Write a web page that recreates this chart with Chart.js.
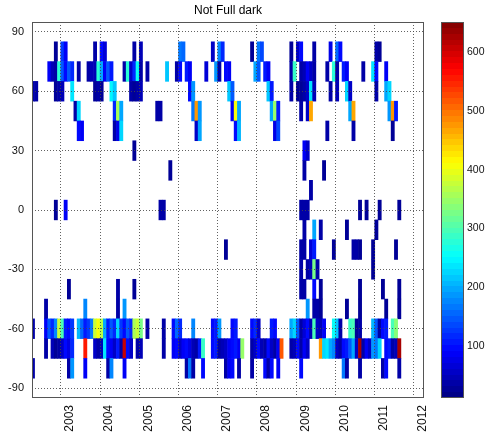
<!DOCTYPE html>
<html>
<head>
<meta charset="utf-8">
<script src="https://cdn.jsdelivr.net/npm/chart.js@4.4.1/dist/chart.umd.min.js"></script>
<style>
  html, body { margin: 0; padding: 0; background: #fff; }
  #wrap { position: relative; width: 485px; height: 444px; }
  #wrap canvas { position: absolute; left: 0; top: 0; }
</style>
</head>
<body>
<div id="wrap">
  <canvas id="map" width="485" height="444"></canvas>
  <canvas id="scale" width="485" height="444"></canvas>
</div>
<script>
// Monthly counts in 10-degree latitude bands.
// Each entry is [month index counted from January 2002, count].
const lat80 = [[10,30],[12,130],[13,90],[22,35],[24,100],[25,70],[34,40],[36,50],[48,170],[49,160],[58,60],[60,180],[61,120],[70,30],[72,170],[73,140],[82,30],[84,60],[85,100],[89,35],[94,80],[96,160],[97,100],[108,40],[109,30]];
const lat70 = [[8,90],[9,45],[10,40],[11,280],[12,150],[13,100],[14,150],[15,120],[17,35],[20,40],[21,45],[22,50],[23,280],[24,200],[25,90],[26,150],[27,110],[31,40],[32,280],[33,60],[34,120],[35,260],[36,40],[38,35],[44,220],[47,40],[48,100],[50,110],[51,90],[56,70],[59,190],[60,40],[62,100],[63,90],[71,200],[72,150],[74,110],[75,90],[82,35],[83,290],[85,40],[86,50],[87,90],[88,60],[89,40],[93,40],[95,280],[96,40],[98,110],[99,90],[104,40],[107,240],[108,100],[111,90]];
const lat60 = [[3,40],[4,40],[10,30],[11,40],[12,50],[15,240],[22,30],[23,40],[24,30],[27,250],[28,220],[33,40],[34,30],[35,40],[36,50],[51,100],[52,190],[63,220],[64,150],[75,220],[76,110],[82,35],[84,30],[85,30],[86,40],[87,60],[88,240],[89,50],[94,40],[96,50],[99,230],[100,60],[108,40],[111,200],[112,230]];
const lat50 = [[16,40],[17,230],[28,120],[29,360],[30,200],[41,40],[42,40],[52,170],[53,480],[54,190],[64,90],[65,410],[66,200],[76,200],[77,350],[78,110],[85,40],[87,60],[88,470],[100,200],[101,470],[112,190],[113,480],[114,110]];
const lat40 = [[17,100],[18,90],[28,40],[29,80],[30,230],[53,60],[54,200],[65,100],[66,210],[77,80],[78,140],[93,40],[101,40],[113,30]];
const lat30 = [[34,30],[86,90],[87,60]];
const lat20 = [[45,30],[86,40],[92,30]];
const lat10 = [[88,40]];
const lat0 = [[10,30],[13,90],[42,40],[43,35],[85,40],[86,35],[87,40],[103,30],[105,30],[109,30],[115,30]];
const latS10 = [[86,40],[89,200],[91,35],[99,30],[108,30]];
const latS20 = [[62,30],[85,40],[86,35],[88,70],[89,110],[95,30],[101,35],[102,35],[103,30],[107,30],[114,30]];
const latS30 = [[85,40],[87,40],[88,50],[89,330],[90,40],[107,30]];
const latS40 = [[14,30],[29,35],[34,30],[85,40],[86,35],[89,100],[91,30],[103,30],[110,30],[115,30]];
const latS50 = [[7,35],[19,180],[29,35],[31,190],[87,190],[89,40],[90,35],[91,30],[99,30],[103,30],[111,30],[115,30]];
const latS60 = [[3,40],[7,90],[8,150],[9,120],[10,180],[11,380],[12,300],[13,110],[14,100],[15,130],[17,210],[18,160],[19,110],[20,130],[21,170],[22,380],[23,410],[24,370],[25,200],[26,110],[27,150],[28,120],[29,230],[30,130],[31,100],[32,150],[33,120],[34,360],[35,380],[36,330],[38,40],[43,40],[46,100],[47,160],[48,120],[52,180],[58,100],[59,110],[60,190],[64,100],[65,110],[70,100],[71,120],[72,60],[76,110],[77,100],[82,200],[83,230],[84,150],[85,40],[86,70],[87,100],[88,50],[89,300],[90,60],[91,50],[92,90],[95,260],[96,220],[97,40],[100,290],[101,300],[102,30],[103,40],[107,210],[108,150],[109,40],[110,100],[111,110],[113,300],[114,340]];
const latS70 = [[7,40],[9,50],[10,30],[11,40],[12,60],[13,100],[14,80],[15,120],[19,560],[22,60],[23,40],[24,50],[25,240],[26,100],[27,90],[28,60],[29,110],[30,40],[31,610],[32,100],[33,60],[35,40],[36,50],[43,35],[46,90],[47,100],[48,60],[49,90],[50,100],[51,80],[52,50],[53,40],[54,110],[55,290],[58,100],[59,110],[60,40],[61,50],[62,60],[63,90],[64,100],[65,110],[66,90],[67,350],[70,40],[71,60],[72,100],[73,50],[74,40],[75,100],[76,60],[77,40],[78,90],[79,520],[82,40],[83,50],[84,100],[85,40],[86,90],[87,60],[91,480],[92,230],[93,240],[94,200],[95,180],[96,60],[97,40],[98,100],[99,110],[100,150],[101,200],[102,60],[103,630],[104,40],[105,90],[106,60],[107,190],[108,170],[109,230],[111,100],[112,110],[113,40],[114,50],[115,630]];
const latS80 = [[3,40],[14,40],[15,190],[19,90],[26,40],[27,180],[31,90],[50,40],[51,170],[52,40],[55,100],[62,40],[63,90],[64,100],[66,40],[70,40],[74,100],[75,40],[76,100],[78,90],[85,100],[98,170],[99,40],[103,40],[110,40],[111,100],[115,40]];

const bandCenters = [80, 70, 60, 50, 40, 30, 20, 10, 0, -10, -20, -30, -40, -50, -60, -70, -80];
const bands = [lat80, lat70, lat60, lat50, lat40, lat30, lat20, lat10, lat0, latS10, latS20, latS30, latS40, latS50, latS60, latS70, latS80];

const yearTicks = [2003, 2004, 2005, 2006, 2007, 2008, 2009, 2010, 2011, 2012];
const latTicks = [-90, -60, -30, 0, 30, 60, 90];
const countTicks = [100, 200, 300, 400, 500, 600];

const firstYear = 2002;
const countMin = 12;
const countMax = 651;

const FONT = '"Liberation Sans", Arial, Helvetica, sans-serif';
const GRID = 'rgba(70,70,70,0.85)';

// 64-level jet colour map
function jet(v) {
  let i = Math.floor((v - countMin) / (countMax - countMin) * 64);
  i = Math.max(0, Math.min(63, i));
  const f = (i + 0.5) / 64;
  const c = k => Math.round(255 * Math.max(0, Math.min(1, 1.5 - Math.abs(4 * f - k))));
  return 'rgb(' + c(3) + ',' + c(2) + ',' + c(1) + ')';
}

const cells = [];
const cellColors = [];
bandCenters.forEach((lat, r) => {
  bands[r].forEach(([m, v]) => {
    cells.push({ y: lat, x: [firstYear + m / 12, firstYear + (m + 1) / 12] });
    cellColors.push(jet(v));
  });
});

// box round the plotting area
const frame = {
  id: 'frame',
  afterDraw(chart, args, opts) {
    const a = chart.chartArea;
    const ctx = chart.ctx;
    ctx.save();
    ctx.strokeStyle = opts.color || '#555';
    ctx.lineWidth = 1;
    ctx.strokeRect(Math.round(a.left) + 0.5, Math.round(a.top) + 0.5,
                   Math.round(a.right) - Math.round(a.left) - 1, Math.round(a.bottom) - Math.round(a.top) - 1);
    ctx.restore();
  }
};

new Chart(document.getElementById('map'), {
  type: 'bar',
  data: {
    datasets: [{
      data: cells,
      backgroundColor: cellColors,
      borderWidth: 0,
      barPercentage: 1,
      categoryPercentage: 1,
      inflateAmount: 0.3
    }]
  },
  options: {
    indexAxis: 'y',
    responsive: false,
    animation: false,
    events: [],
    layout: { padding: { left: 0, right: 61, top: 0, bottom: 0 } },
    plugins: {
      legend: { display: false },
      tooltip: { enabled: false },
      title: {
        display: true,
        text: 'Not Full dark',
        fullSize: false,
        color: '#000',
        font: { family: FONT, size: 12, weight: 'normal' },
        padding: { top: 3, bottom: 4.6 }
      },
      frame: { color: '#555' }
    },
    scales: {
      x: {
        type: 'linear',
        min: 2002.2675,
        max: 2012.2548,
        offset: false,
        afterBuildTicks: s => { s.ticks = yearTicks.map(v => ({ value: v })); },
        afterFit: s => { s.height = 46; },
        ticks: {
          minRotation: 90, maxRotation: 90, autoSkip: false,
          padding: 7, labelOffset: 9,
          color: '#111', font: { family: FONT, size: 12 },
          callback: v => String(v)
        },
        grid: { color: GRID, z: 1, drawTicks: false, offset: false },
        border: { display: false, dash: [1, 2] }
      },
      y: {
        type: 'linear',
        min: -95,
        max: 95,
        offset: false,
        afterBuildTicks: s => { s.ticks = latTicks.map(v => ({ value: v })); },
        afterFit: s => { s.width = 32; },
        ticks: {
          autoSkip: false, padding: 8,
          color: '#111', font: { family: FONT, size: 11 },
          callback: v => String(v)
        },
        grid: { color: GRID, z: 1, drawTicks: false, offset: false },
        border: { display: false, dash: [1, 2] }
      }
    }
  },
  plugins: [frame]
});

// colour scale bar
new Chart(document.getElementById('scale'), {
  type: 'bar',
  data: {
    labels: [''],
    datasets: [{
      data: [[countMin, countMax]],
      borderWidth: 0,
      barPercentage: 1,
      categoryPercentage: 1,
      backgroundColor: c => {
        const a = c.chart.chartArea;
        if (!a) return 'rgba(0,0,0,0)';
        const g = c.chart.ctx.createLinearGradient(0, a.bottom, 0, a.top);
        for (let i = 0; i < 64; i++) {
          const col = jet(countMin + (i + 0.5) * (countMax - countMin) / 64);
          g.addColorStop(i / 64, col);
          g.addColorStop((i + 1) / 64, col);
        }
        return g;
      }
    }]
  },
  options: {
    responsive: false,
    animation: false,
    events: [],
    layout: { padding: { left: 441, right: 0, top: 22, bottom: 46 } },
    plugins: {
      legend: { display: false },
      tooltip: { enabled: false },
      frame: { color: '#555' }
    },
    scales: {
      x: { display: false },
      y: {
        position: 'right',
        min: countMin,
        max: countMax,
        afterBuildTicks: s => { s.ticks = countTicks.map(v => ({ value: v })); },
        afterFit: s => { s.width = 21; },
        ticks: { padding: 3, color: '#111', font: { family: FONT, size: 10.5 }, callback: v => String(v) },
        grid: { display: false, drawTicks: false },
        border: { display: false }
      }
    }
  },
  plugins: [frame]
});
</script>
</body>
</html>
